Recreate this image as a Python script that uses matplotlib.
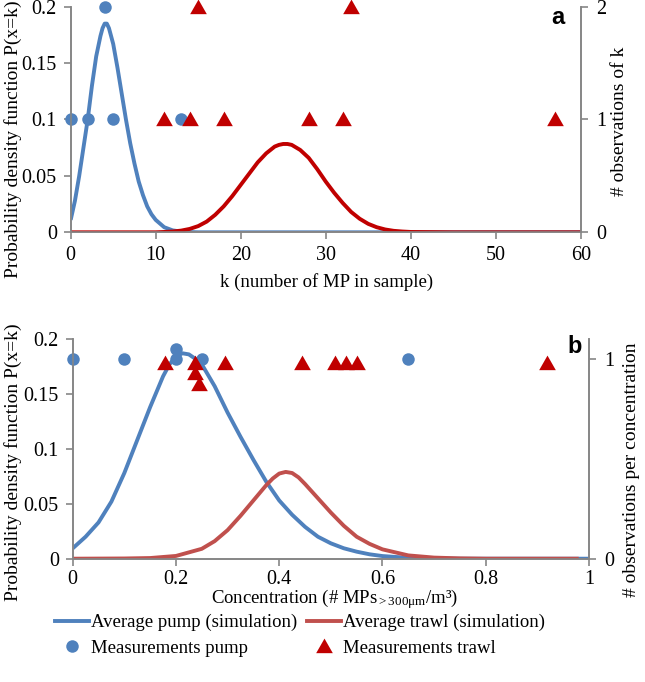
import matplotlib
matplotlib.use("Agg")
import matplotlib.pyplot as plt
from matplotlib.lines import Line2D

plt.rcParams['font.family'] = ['Liberation Serif', 'DejaVu Serif']
plt.rcParams['mathtext.fontset'] = 'custom'
plt.rcParams['mathtext.rm'] = 'Liberation Serif'
plt.rcParams['mathtext.it'] = 'Liberation Serif:italic'

# ---------------- Panel a data ----------------
pump_k = [0, 0.5, 1, 1.5, 2, 2.5, 3, 3.5, 3.75, 4, 4.25, 4.5, 5, 5.5, 6, 6.5, 7, 7.5,
          8, 8.5, 9, 9.5, 10, 11, 12, 13, 14, 15, 20, 30, 40, 50, 60]
pump_p = [0.011, 0.028, 0.050, 0.075, 0.100, 0.130, 0.156, 0.174, 0.181, 0.185,
          0.185, 0.181, 0.167, 0.146, 0.123, 0.100, 0.079, 0.061, 0.045, 0.033,
          0.023, 0.016, 0.011, 0.0045, 0.0017, 0.0006, 0.0002, 0.0, 0.0, 0.0, 0.0,
          0.0, 0.0]

trawl_k = [0, 5, 10, 11, 12, 13, 14, 15, 16, 17, 18, 19, 20, 21, 22, 23, 24, 24.5,
           25, 25.5, 26, 27, 28, 29, 30, 31, 32, 33, 34, 35, 36, 37, 38, 39, 40, 45,
           50, 60]
trawl_p = [0.0, 0.0, 0.0, 0.0003, 0.0007, 0.0015, 0.003, 0.0055, 0.0095, 0.0155,
           0.023, 0.032, 0.042, 0.052, 0.062, 0.070, 0.076, 0.0775, 0.0783, 0.0783,
           0.0775, 0.073, 0.066, 0.056, 0.045, 0.035, 0.026, 0.018, 0.012, 0.0075,
           0.0045, 0.0025, 0.0013, 0.0007, 0.0003, 0.0, 0.0, 0.0]

meas_pump_k = [0, 2, 4, 5, 13]
meas_pump_n = [1, 1, 2, 1, 1]
meas_trawl_k = [11, 14, 15, 18, 28, 32, 33, 57]
meas_trawl_n = [1, 1, 2, 1, 1, 1, 2, 1]

# ---------------- Panel b data ----------------
pump_c = [0, 0.025, 0.05, 0.075, 0.1, 0.125, 0.15, 0.175, 0.1875, 0.2, 0.2125,
          0.225, 0.2375, 0.25, 0.275, 0.3, 0.325, 0.35, 0.375, 0.4, 0.425, 0.45,
          0.475, 0.5, 0.525, 0.55, 0.575, 0.6, 0.65, 0.7, 0.75, 0.8, 0.9, 1.0]
pump_pc = [0.0094, 0.020, 0.033, 0.052, 0.078, 0.108, 0.138, 0.166, 0.177, 0.184,
           0.187, 0.186, 0.182, 0.177, 0.157, 0.133, 0.111, 0.090, 0.070, 0.053,
           0.040, 0.029, 0.020, 0.014, 0.0095, 0.0064, 0.004, 0.0024, 0.0008,
           0.0002, 0.0, 0.0, 0.0, 0.0]

trawl_c = [0, 0.1, 0.15, 0.2, 0.25, 0.275, 0.3, 0.325, 0.35, 0.375, 0.3875, 0.4,
           0.4125, 0.425, 0.4375, 0.45, 0.475, 0.5, 0.525, 0.55, 0.575, 0.6, 0.65,
           0.7, 0.75, 0.8, 0.9, 0.98]
trawl_pc = [0.0, 0.0002, 0.0006, 0.0025, 0.009, 0.016, 0.026, 0.039, 0.053, 0.067,
            0.073, 0.0775, 0.079, 0.078, 0.074, 0.068, 0.055, 0.042, 0.030, 0.020,
            0.0135, 0.0085, 0.003, 0.001, 0.0003, 0.0, 0.0, 0.0]

meas_pump_c = [0, 0.1, 0.2, 0.2, 0.25, 0.65]
meas_pump_cn = [1, 1, 1, 1.05, 1, 1]
meas_trawl_c = [0.178, 0.237, 0.237, 0.245, 0.295, 0.444, 0.508, 0.53, 0.551, 0.918]
meas_trawl_cn = [0.98, 0.98, 0.93, 0.875, 0.98, 0.98, 0.98, 0.98, 0.98, 0.98]

# ---------------- Styles ----------------
BLUE = '#4F81BD'
RED_DARK = '#C00000'
RED_LIGHT = '#C0504D'
GRAY = '#868686'
TICK_FS = 14.5
LAB_FS = 14
LW = 2.8
tri = [(-1, -0.8), (1, -0.8), (0, 0.95)]

W, H = 645, 682
fig = plt.figure(figsize=(W / 100, H / 100), dpi=100)


def px(x, y):
    return x / W, 1 - y / H


def style(ax, twin, xpad=5):
    ax.spines['top'].set_visible(False)
    twin.spines['top'].set_visible(False)
    for sp in ['left', 'bottom', 'right']:
        for a in (ax, twin):
            a.spines[sp].set_color(GRAY)
            a.spines[sp].set_linewidth(1.2)
    ax.tick_params(axis='both', colors=GRAY, labelcolor='black', labelsize=TICK_FS,
                   length=5, width=1.2, direction='out', pad=5)
    ax.tick_params(axis='x', pad=xpad)
    twin.tick_params(axis='y', colors=GRAY, labelcolor='black', labelsize=TICK_FS,
                     length=5, width=1.2, direction='out', pad=6)


# ---------------- Panel a ----------------
axa = fig.add_axes([70.7 / W, 1 - 232.3 / H, 510 / W, 225.6 / H])
axa2 = axa.twinx()
axa.plot(pump_k, pump_p, color=BLUE, lw=LW, solid_capstyle='butt', zorder=2)
axa.plot(trawl_k, trawl_p, color=RED_DARK, lw=LW, solid_capstyle='butt', zorder=3)
axa2.plot(meas_pump_k, meas_pump_n, 'o', color=BLUE, ms=9, mec='none', clip_on=False)
axa2.plot(meas_trawl_k, meas_trawl_n, ls='none', marker=tri, color=RED_DARK, ms=12,
          mec='none', clip_on=False)
axa.set_xlim(0, 60)
axa.set_ylim(0, 0.2)
axa2.set_ylim(0, 2)
axa.set_xticks([0, 10, 20, 30, 40, 50, 60])
axa.set_yticks([0, 0.05, 0.1, 0.15, 0.2])
axa.set_yticklabels(['0', '0.05', '0.1', '0.15', '0.2'])
axa2.set_yticks([0, 1, 2])
style(axa, axa2)
fig.text(*px(327, 282), 'k (number of MP in sample)', fontsize=13.5,
         ha='center', va='center')
fig.text(*px(13, 139), 'Probability density function P(x=k)', fontsize=LAB_FS,
         rotation=90, ha='center', va='center')
fig.text(*px(619, 121), '# observations of k', fontsize=LAB_FS,
         rotation=90, ha='center', va='center')
axa.text(0.955, 0.954, 'a', transform=axa.transAxes, fontsize=17, fontweight='bold',
         family='Liberation Sans', ha='center', va='center')

# ---------------- Panel b ----------------
axb = fig.add_axes([72.7 / W, 1 - 558.7 / H, 516.3 / W, 219.7 / H])
axb2 = axb.twinx()
axb.plot(pump_c, pump_pc, color=BLUE, lw=LW, solid_capstyle='butt', zorder=2)
axb.plot(trawl_c, trawl_pc, color=RED_LIGHT, lw=LW, solid_capstyle='butt', zorder=3)
axb2.plot(meas_pump_c, meas_pump_cn, 'o', color=BLUE, ms=9, mec='none', clip_on=False)
axb2.plot(meas_trawl_c, meas_trawl_cn, ls='none', marker=tri, color=RED_DARK, ms=12,
          mec='none', clip_on=False)
axb.set_xlim(0, 1)
axb.set_ylim(0, 0.2)
axb2.set_ylim(0, 1.1)
axb.set_xticks([0, 0.2, 0.4, 0.6, 0.8, 1])
axb.set_xticklabels(['0', '0.2', '0.4', '0.6', '0.8', '1'])
axb.set_yticks([0, 0.05, 0.1, 0.15, 0.2])
axb.set_yticklabels(['0', '0.05', '0.1', '0.15', '0.2'])
axb2.set_yticks([0, 1])
style(axb, axb2, xpad=3)
fig.text(*px(335, 599),
         'Concentration (# MPs$_{\\mathregular{>300\u03bcm}}$/m\u00b3)',
         fontsize=13.5, ha='center', va='center')
fig.text(*px(13, 462), 'Probability density function P(x=k)', fontsize=LAB_FS,
         rotation=90, ha='center', va='center')
fig.text(*px(631, 470), '# observations per concentration', fontsize=LAB_FS,
         rotation=90, ha='center', va='center')
axb.text(0.973, 0.964, 'b', transform=axb.transAxes, fontsize=17, fontweight='bold',
         family='Liberation Sans', ha='center', va='center')

# ---------------- Legend ----------------
handles = [
    Line2D([], [], color=BLUE, lw=LW),
    Line2D([], [], ls='none', marker='o', color=BLUE, ms=9, mec='none'),
    Line2D([], [], color=RED_LIGHT, lw=LW),
    Line2D([], [], ls='none', marker=tri, color=RED_DARK, ms=12, mec='none'),
]
labels = ['Average pump (simulation)', 'Measurements pump',
          'Average trawl (simulation)', 'Measurements trawl']
fig.legend(handles, labels, ncol=2, loc='upper left',
           bbox_to_anchor=px(55, 614), frameon=False, fontsize=13.5,
           handlelength=1.8, handletextpad=0.1, columnspacing=0.55,
           labelspacing=0.45, borderaxespad=0, borderpad=0, numpoints=1)

fig.savefig('out.png', dpi=100)
